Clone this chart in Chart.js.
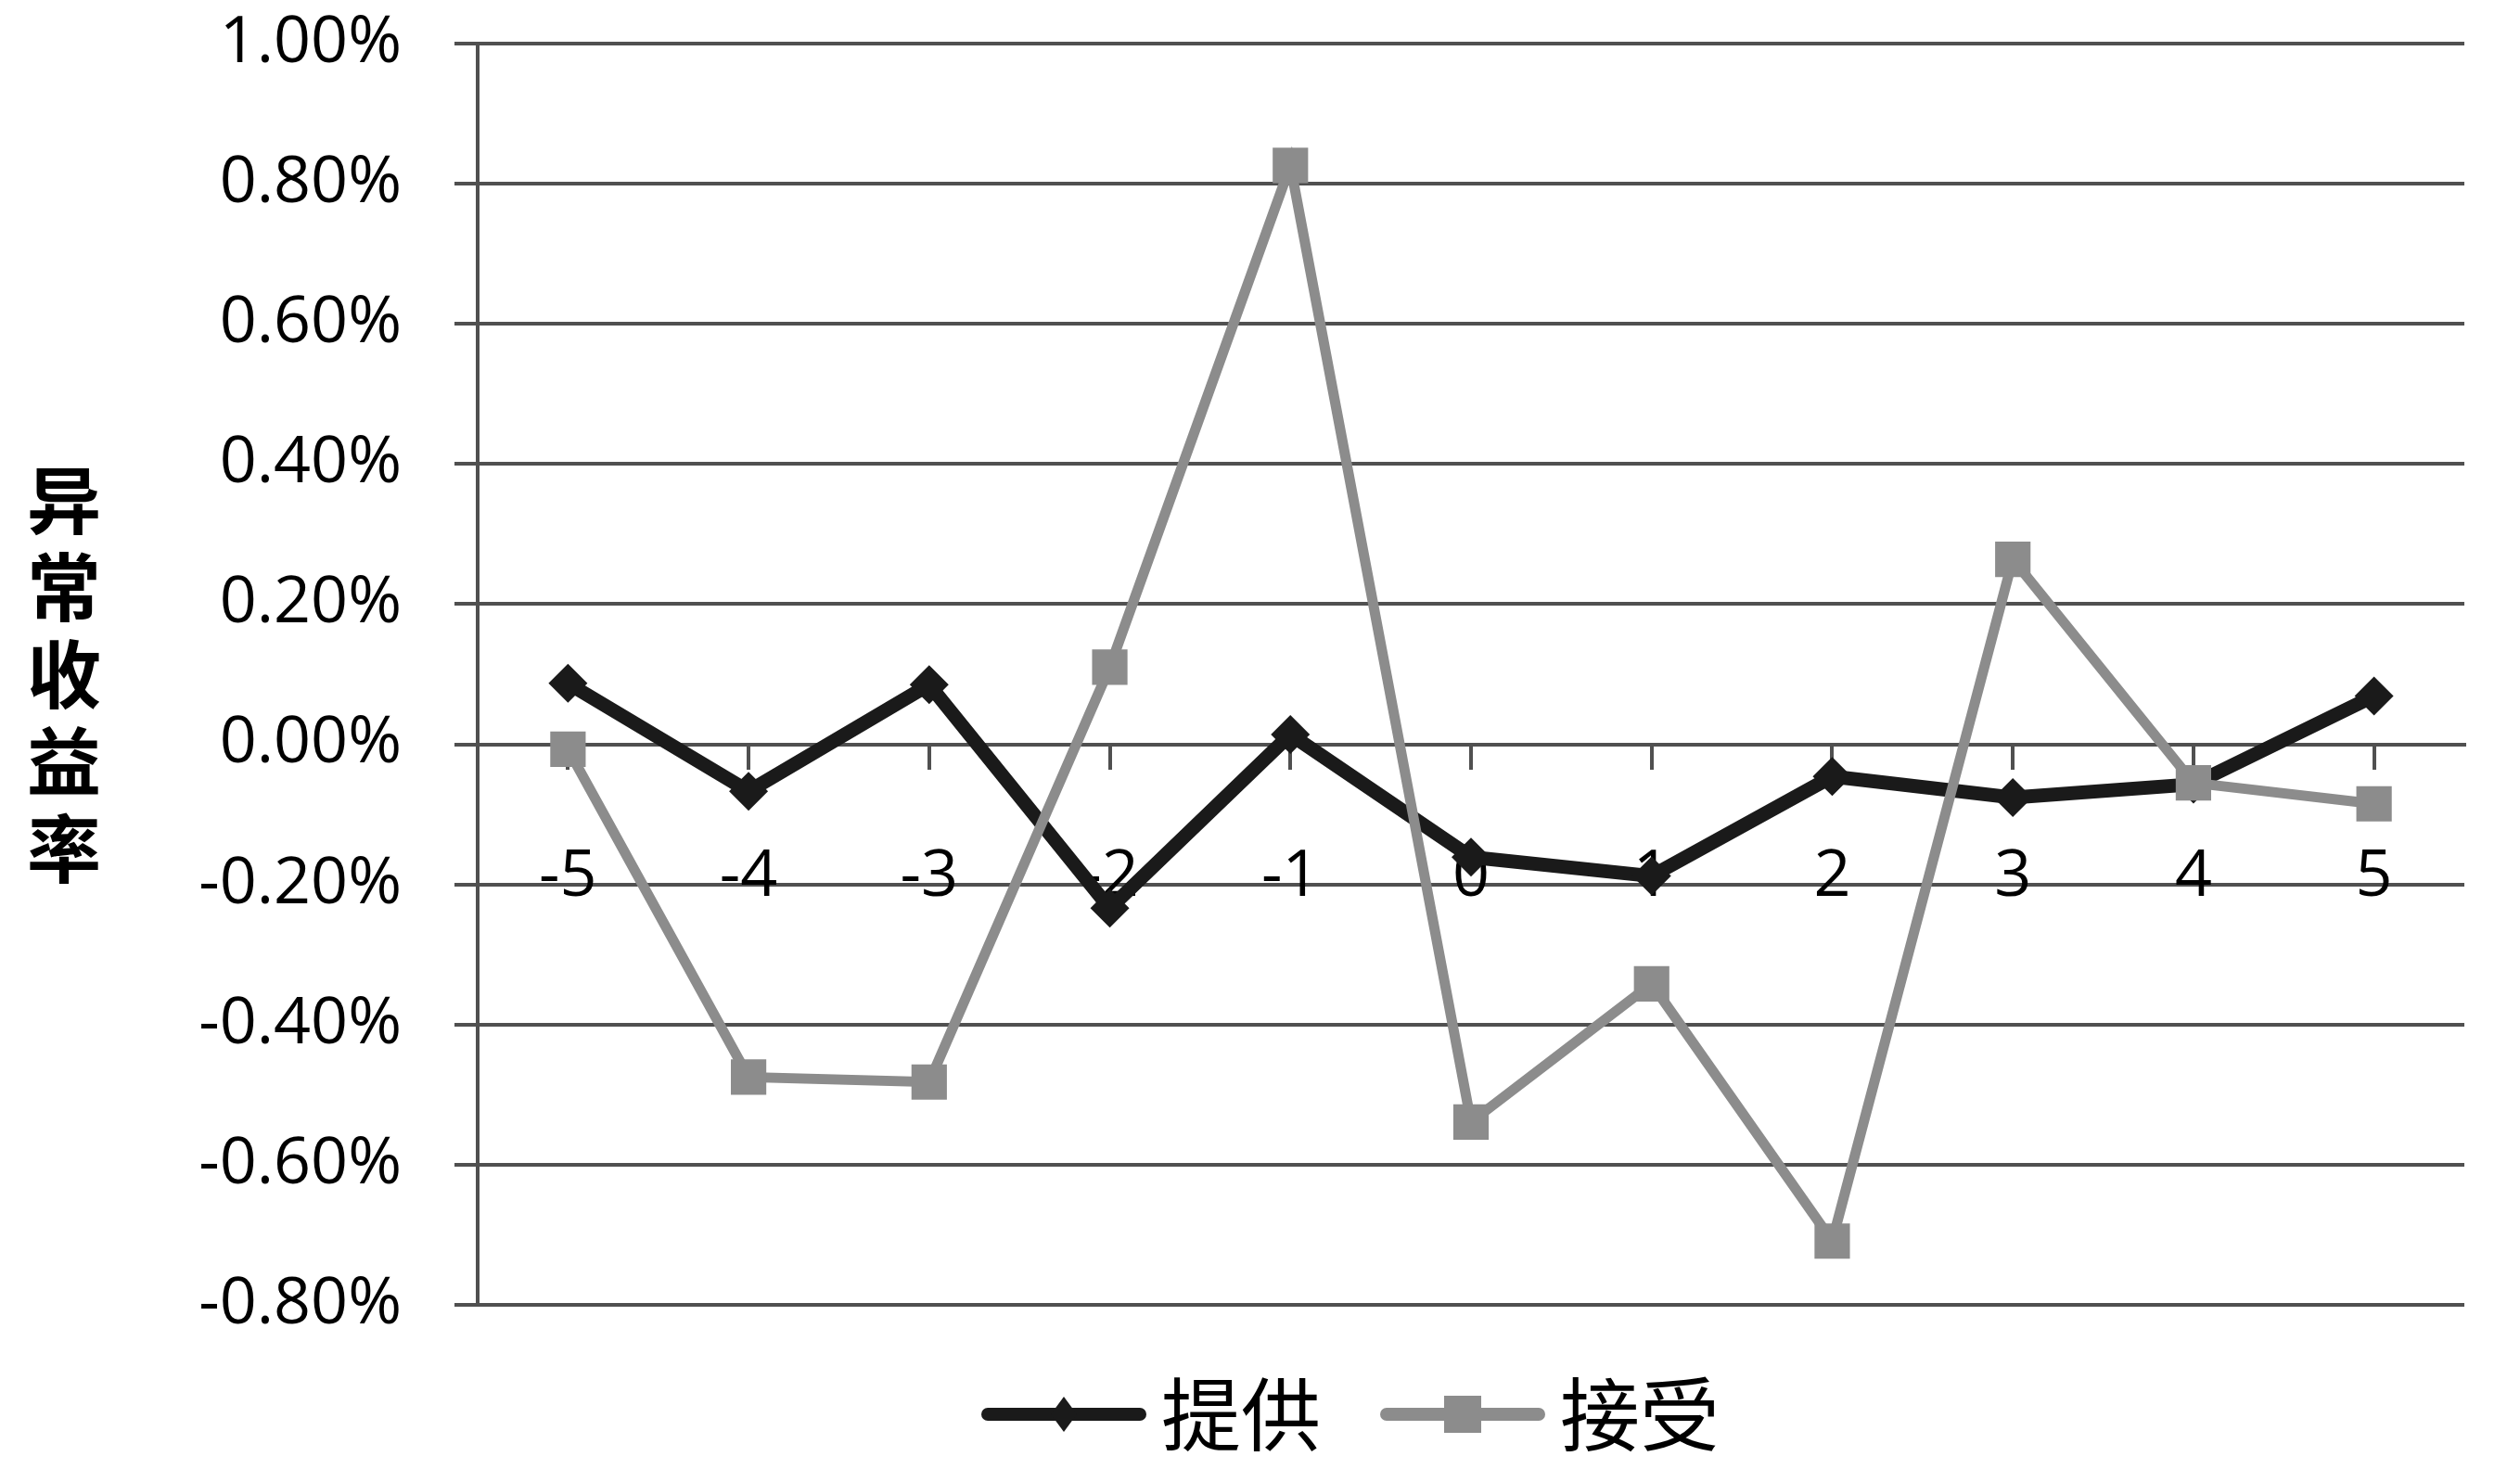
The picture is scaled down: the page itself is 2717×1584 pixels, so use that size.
<!DOCTYPE html>
<html>
<head>
<meta charset="utf-8">
<title>异常收益率</title>
<script src="https://cdn.jsdelivr.net/npm/chart.js@4.4.1/dist/chart.umd.min.js"></script>
<style>
  body { margin: 0; background: #fff; }
  canvas { display: block; }
</style>
</head>
<body>
<canvas id="chart" width="2717" height="1584"></canvas>
<script>
// event days
const days = ['-5', '-4', '-3', '-2', '-1', '0', '1', '2', '3', '4', '5'];

// abnormal returns, in percent
const provide = [0.087, -0.067, 0.085, -0.234, 0.014, -0.161, -0.188, -0.046, -0.076, -0.057, 0.069];
const accept = [-0.007, -0.475, -0.482, 0.110, 0.826, -0.539, -0.342, -0.709, 0.264, -0.055, -0.085];

const seriesNames = ['提供', '接受'];
const yTitle = '异常收益率';

const BLACK = '#1a1a1a';
const GRAY = '#8c8c8c';
const GRID = '#505050';
const NUM_FONT = '"Open Sans", "Liberation Sans", sans-serif';
const CJK_FONT = '"Noto Sans CJK SC", sans-serif';

// legend icons: a short line with the marker in the middle, like Excel draws them
// (a little blank space on the left so the items sit further apart)
function makeIcon(color, marker) {
    const c = document.createElement('canvas');
    c.width = 194;
    c.height = 50;
    const g = c.getContext('2d');
    g.strokeStyle = color;
    g.lineWidth = 14;
    g.lineCap = 'round';
    g.beginPath();
    g.moveTo(23, 25);
    g.lineTo(187, 25);
    g.stroke();
    g.fillStyle = color;
    g.beginPath();
    const cx = 105;
    if (marker === 'diamond') {
        g.moveTo(cx, 6);
        g.lineTo(cx + 14, 25);
        g.lineTo(cx, 44);
        g.lineTo(cx - 14, 25);
    } else {
        g.rect(cx - 20, 5, 40, 40);
    }
    g.closePath();
    g.fill();
    return c;
}
const legendIcons = [makeIcon(BLACK, 'diamond'), makeIcon(GRAY, 'square')];

// vertical, stacked y-axis title
const stackedTitle = {
    id: 'stackedTitle',
    afterLayout(chart) {
        // Excel centres the legend a bit right of the page centre
        chart.legend.left = 266;
    },
    afterDraw(chart) {
        const ctx = chart.ctx;
        const area = chart.chartArea;
        const mid = (area.top + area.bottom) / 2;
        const step = 94;
        const chars = Array.from(yTitle);
        ctx.save();
        ctx.font = 'bold 80px ' + CJK_FONT;
        ctx.fillStyle = '#000';
        ctx.textAlign = 'center';
        ctx.textBaseline = 'middle';
        chars.forEach((ch, i) => {
            ctx.fillText(ch, 69, mid + (i - (chars.length - 1) / 2) * step);
        });
        ctx.restore();
    }
};

new Chart(document.getElementById('chart'), {
    type: 'line',
    data: {
        labels: days,
        datasets: [
            {
                label: seriesNames[0],
                data: provide,
                borderColor: BLACK,
                backgroundColor: BLACK,
                borderWidth: 15,
                pointStyle: 'rectRot',
                pointRadius: 21,
                pointBorderWidth: 0,
                pointBackgroundColor: BLACK,
                tension: 0,
                order: 1
            },
            {
                label: seriesNames[1],
                data: accept,
                borderColor: GRAY,
                backgroundColor: GRAY,
                borderWidth: 11,
                pointStyle: 'rect',
                pointRadius: 27,
                pointBorderWidth: 0,
                pointBackgroundColor: GRAY,
                tension: 0,
                order: 0
            }
        ]
    },
    options: {
        responsive: false,
        animation: false,
        layout: {
            padding: { left: 180, right: 60, top: 47, bottom: 6 }
        },
        plugins: {
            tooltip: { enabled: false },
            legend: {
                position: 'bottom',
                labels: {
                    usePointStyle: true,
                    pointStyleWidth: 140,
                    padding: 75,
                    color: '#000',
                    font: { size: 86, family: CJK_FONT },
                    sort: (a, b) => a.datasetIndex - b.datasetIndex,
                    generateLabels(chart) {
                        const items = Chart.defaults.plugins.legend.labels.generateLabels(chart);
                        items.forEach(item => { item.pointStyle = legendIcons[item.datasetIndex]; });
                        return items;
                    }
                }
            }
        },
        scales: {
            x: {
                type: 'category',
                position: { y: 0 },
                offset: true,
                grid: {
                    drawOnChartArea: false,
                    drawTicks: true,
                    tickLength: 25,
                    color: GRID,
                    lineWidth: 4
                },
                border: { display: true, color: GRID, width: 4 },
                ticks: {
                    color: '#000',
                    padding: 77,
                    maxRotation: 0,
                    font: { size: 70, family: NUM_FONT }
                }
            },
            y: {
                min: -0.8,
                max: 1.0,
                afterFit(scale) {
                    scale.width = 335;
                    scale.paddingTop = 0;
                    scale.paddingBottom = 0;
                },
                grid: {
                    color: GRID,
                    lineWidth: 4,
                    tickLength: 25
                },
                border: { display: true, color: GRID, width: 4 },
                ticks: {
                    stepSize: 0.2,
                    color: '#000',
                    padding: 57,
                    font: { size: 70, family: NUM_FONT },
                    callback: v => v.toFixed(2) + '%'
                }
            }
        }
    },
    plugins: [stackedTitle]
});
</script>
</body>
</html>
